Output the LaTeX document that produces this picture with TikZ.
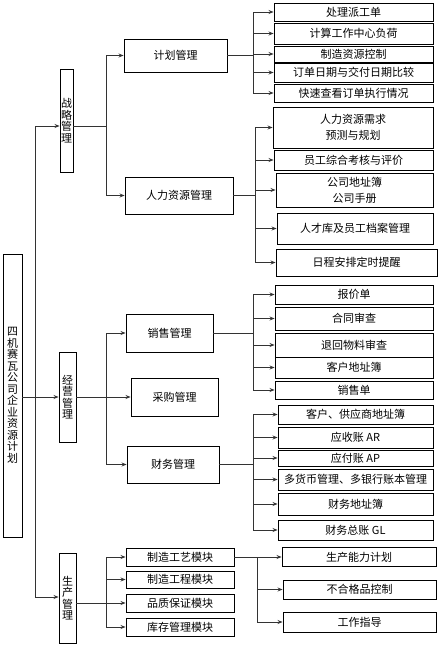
\documentclass[tikz,border=0pt]{standalone}
\usepackage{fontspec}
\setmainfont{Noto Sans CJK SC}
\usetikzlibrary{arrows.meta}

\begin{document}
\begin{tikzpicture}[
 x=1pt,y=-1pt,
 line/.style={line width=.8pt,draw=black!80},
 arr/.style={line,-{Stealth[length=5pt,width=4pt]}},
 box/.style={draw,line width=.9pt,inner sep=0pt,align=center,font=\fontsize{11}{16}\selectfont},
 vbox/.style={box,font=\fontsize{11}{11.5}\selectfont}]
 \useasboundingbox (0,0) rectangle (440,645);
 % Root and the three first-level boxes.
 \node[vbox,minimum width=19pt,minimum height=283pt] (root) at (12.5,395.5)
  {四\\机\\赛\\瓦\\公\\司\\企\\业\\资\\源\\计\\划};
 \node[vbox,minimum width=13pt,minimum height=103pt] (zl) at (66.5,120.5) {战\\略\\管\\理};
 \node[vbox,minimum width=17pt,minimum height=90pt] (jy) at (67.5,397) {经\\营\\管\\理};
 \node[vbox,minimum width=17pt,minimum height=90pt] (sc) at (67.5,598) {生\\产\\管\\理};
 \coordinate (t1) at (35,126); \coordinate (t2) at (35,597);
 \draw[line] (t1)--(t2);
 \draw[arr] (t1)--(zl.west |- t1);
 \draw[arr] (t2)--(sc.west |- t2);
 \draw[arr] (root.east |- jy.west)--(jy.west);
 % Second level.
 \node[box,minimum width=103pt,minimum height=33pt] (jh) at (175.5,55.5) {计划管理};
 \node[box,minimum width=108pt,minimum height=37pt] (rl) at (179,195.5) {人力资源管理};
 \node[box,minimum width=87pt,minimum height=38pt] (xs) at (169.5,333) {销售管理};
 \node[box,minimum width=87pt,minimum height=38pt] (cg) at (174.5,397) {采购管理};
 \node[box,minimum width=92pt,minimum height=37pt] (cw) at (173,464.5) {财务管理};
 \node[box,minimum width=108pt,minimum height=18pt] (g1) at (180,557) {制造工艺模块};
 \node[box,minimum width=108pt,minimum height=17pt] (g2) at (180,579.5) {制造工程模块};
 \node[box,minimum width=108pt,minimum height=18pt] (g3) at (180,603) {品质保证模块};
 \node[box,minimum width=108pt,minimum height=18pt] (g4) at (180,627) {库存管理模块};
 \coordinate (b1) at (106,126);
 \draw[line] (zl.east |- b1)--(b1);
 \draw[line] (b1 |- jh.west)--(b1 |- rl.west);
 \foreach \n in {jh,rl} \draw[arr] (b1 |- \n.west)--(\n.west);
 \coordinate (b2) at (106,0);
 \draw[arr] (jy.east |- cg.west)--(cg.west);
 \draw[line] (b2 |- xs.west)--(b2 |- cw.west);
 \foreach \n in {xs,cw} \draw[arr] (b2 |- \n.west)--(\n.west);
 \coordinate (b3) at (106,0);
 \draw[arr] (sc.east |- g3.west)--(g3.west);
 \draw[line] (b3 |- g1.west)--(b3 |- g4.west);
 \foreach \n in {g1,g2,g4} \draw[arr] (b3 |- \n.west)--(\n.west);
 % Third level under planning.
 \node[box,minimum width=159pt,minimum height=18pt] (p1) at (353.5,12) {处理派工单};
 \node[box,minimum width=159pt,minimum height=21pt] (p2) at (353.5,33.5) {计算工作中心负荷};
 \node[box,minimum width=159pt,minimum height=16pt] (p3) at (353.5,54) {制造资源控制};
 \node[box,minimum width=159pt,minimum height=19pt] (p4) at (353.5,72.5) {订单日期与交付日期比较};
 \node[box,minimum width=159pt,minimum height=18pt] (p5) at (353.5,93) {快速查看订单执行情况};
 \coordinate (c1) at (253,0);
 \draw[line] (jh.east)--(c1 |- jh.east);
 \draw[line] (c1 |- p1.west)--(c1 |- p5.west);
 \foreach \n in {p1,p2,p3,p4,p5} \draw[arr] (c1 |- \n.west)--(\n.west);
 % Third level under human resources.
 \node[box,minimum width=160pt,minimum height=41pt] (h1) at (353,127.5) {人力资源需求\\预测与规划};
 \node[box,minimum width=159pt,minimum height=20pt] (h2) at (353.5,160) {员工综合考核与评价};
 \node[box,minimum width=157pt,minimum height=34pt] (h3) at (354.5,190) {公司地址簿\\公司手册};
 \node[box,minimum width=156pt,minimum height=31pt] (h4) at (355,228.5) {人才库及员工档案管理};
 \node[box,minimum width=161pt,minimum height=27pt] (h5) at (356.5,262.5) {日程安排定时提醒};
 \coordinate (c2) at (255,0);
 \draw[line] (rl.east)--(c2 |- rl.east);
 \draw[line] (c2 |- h1.west)--(c2 |- h5.west);
 \foreach \n in {h1,h2,h3,h4,h5} \draw[arr] (c2 |- \n.west)--(\n.west);
 % Third level under sales.
 \node[box,minimum width=158pt,minimum height=19pt] (s1) at (354,294.5) {报价单};
 \node[box,minimum width=158pt,minimum height=23pt] (s2) at (354,318.5) {合同审查};
 \node[box,minimum width=158pt,minimum height=24pt] (s3) at (354,345) {退回物料审查};
 \node[box,minimum width=158pt,minimum height=21pt] (s4) at (354,367.5) {客户地址簿};
 \node[box,minimum width=158pt,minimum height=18pt] (s5) at (354,390) {销售单};
 \coordinate (c3) at (253,0);
 \draw[line] (xs.east)--(c3 |- xs.east);
 \draw[line] (c3 |- s1.west)--(c3 |- s5.west);
 \foreach \n in {s1,s2,s3,s4,s5} \draw[arr] (c3 |- \n.west)--(\n.west);
 % Third level under finance.
 \node[box,minimum width=155pt,minimum height=19pt] (f1) at (355.5,414.5) {客户、供应商地址簿};
 \node[box,minimum width=155pt,minimum height=21pt] (f2) at (355.5,437.5) {应收账 AR};
 \node[box,minimum width=155pt,minimum height=16pt] (f3) at (355.5,458) {应付账 AP};
 \node[box,minimum width=155pt,minimum height=21pt] (f4) at (355.5,479.5) {多货币管理、多银行账本管理};
 \node[box,minimum width=155pt,minimum height=22pt] (f5) at (355.5,504) {财务地址簿};
 \node[box,minimum width=155pt,minimum height=20pt] (f6) at (355.5,530) {财务总账 GL};
 \coordinate (c4) at (253,0);
 \draw[line] (cw.east)--(c4 |- cw.east);
 \draw[line] (c4 |- f1.west)--(c4 |- f6.west);
 \foreach \n in {f1,f2,f3,f4,f5,f6} \draw[arr] (c4 |- \n.west)--(\n.west);
 % Third level under production.
 \node[box,minimum width=154pt,minimum height=19pt] (q1) at (359,557) {生产能力计划};
 \node[box,minimum width=153pt,minimum height=19pt] (q2) at (359.5,589.5) {不合格品控制};
 \node[box,minimum width=153pt,minimum height=20pt] (q3) at (359.5,622) {工作指导};
 \coordinate (c5) at (257,0);
 \draw[arr] (g1.east)--(q1.west);
 \draw[line] (c5 |- q1.west)--(c5 |- q3.west);
 \foreach \n in {q2,q3} \draw[arr] (c5 |- \n.west)--(\n.west);
\end{tikzpicture}
\end{document}
